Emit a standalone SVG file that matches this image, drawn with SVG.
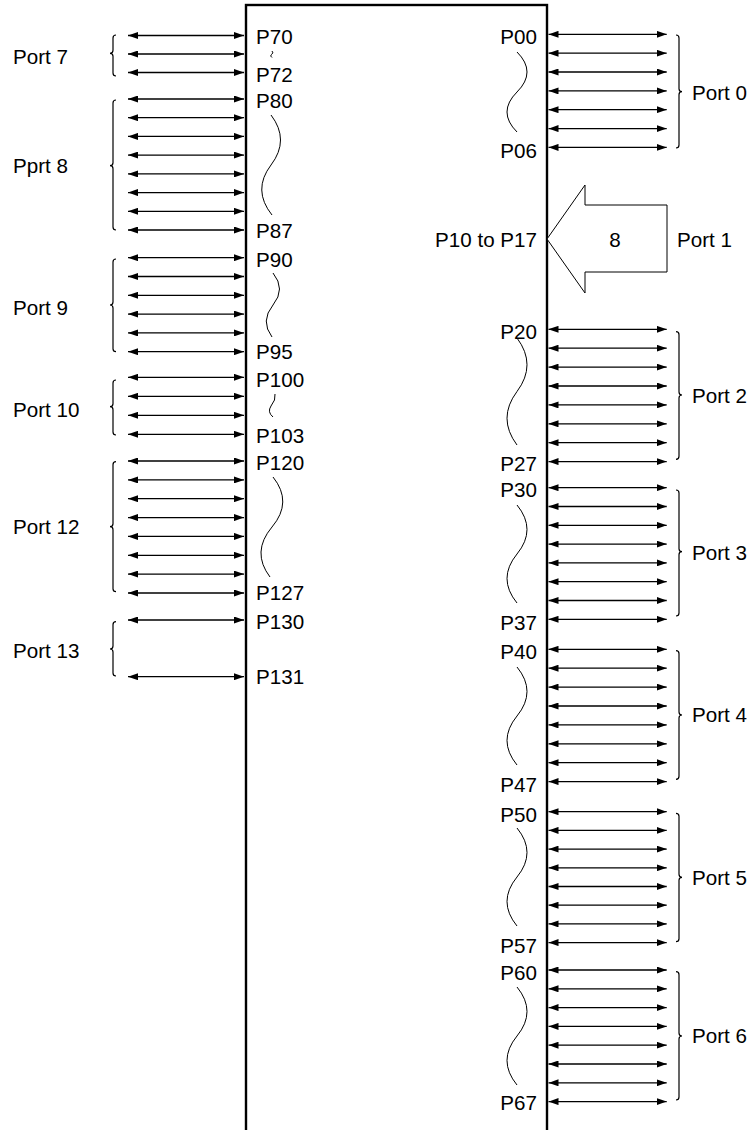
<svg xmlns="http://www.w3.org/2000/svg" width="751" height="1130" viewBox="0 0 751 1130">
<style>
text{font-family:"Liberation Sans",Arial,Helvetica,sans-serif;font-size:20.6px;fill:#000}
.r{text-anchor:end}
.m{text-anchor:middle}
.a{stroke:#000;stroke-width:1.3;fill:none;marker-start:url(#ah);marker-end:url(#ah)}
.b{stroke:#000;stroke-width:1.2;fill:none}
.w{stroke:#000;stroke-width:1;fill:none}
</style>
<defs>
<marker id="ah" viewBox="0 0 10 7" refX="10" refY="3.5" markerWidth="10" markerHeight="7" markerUnits="userSpaceOnUse" orient="auto-start-reverse"><path d="M0,0L10,3.5L0,7z" fill="#000"/></marker>
</defs>
<rect width="751" height="1130" fill="#fff"/>
<g id="chip">
<rect x="246" y="5" width="301" height="1140" fill="#fff" stroke="#000" stroke-width="2.4"/>
</g>
<g id="connectors">
<line class="a" x1="128" y1="35.5" x2="244" y2="35.5"/>
<line class="a" x1="128" y1="54" x2="244" y2="54"/>
<line class="a" x1="128" y1="72.5" x2="244" y2="72.5"/>
<line class="a" x1="128" y1="99" x2="244" y2="99"/>
<line class="a" x1="128" y1="117.7" x2="244" y2="117.7"/>
<line class="a" x1="128" y1="136.4" x2="244" y2="136.4"/>
<line class="a" x1="128" y1="155.1" x2="244" y2="155.1"/>
<line class="a" x1="128" y1="173.9" x2="244" y2="173.9"/>
<line class="a" x1="128" y1="192.6" x2="244" y2="192.6"/>
<line class="a" x1="128" y1="211.3" x2="244" y2="211.3"/>
<line class="a" x1="128" y1="230" x2="244" y2="230"/>
<line class="a" x1="128" y1="257.7" x2="244" y2="257.7"/>
<line class="a" x1="128" y1="276.5" x2="244" y2="276.5"/>
<line class="a" x1="128" y1="295.3" x2="244" y2="295.3"/>
<line class="a" x1="128" y1="314.1" x2="244" y2="314.1"/>
<line class="a" x1="128" y1="332.9" x2="244" y2="332.9"/>
<line class="a" x1="128" y1="351.7" x2="244" y2="351.7"/>
<line class="a" x1="128" y1="377.3" x2="244" y2="377.3"/>
<line class="a" x1="128" y1="396.3" x2="244" y2="396.3"/>
<line class="a" x1="128" y1="415.3" x2="244" y2="415.3"/>
<line class="a" x1="128" y1="434.3" x2="244" y2="434.3"/>
<line class="a" x1="128" y1="461" x2="244" y2="461"/>
<line class="a" x1="128" y1="479.9" x2="244" y2="479.9"/>
<line class="a" x1="128" y1="498.7" x2="244" y2="498.7"/>
<line class="a" x1="128" y1="517.6" x2="244" y2="517.6"/>
<line class="a" x1="128" y1="536.4" x2="244" y2="536.4"/>
<line class="a" x1="128" y1="555.3" x2="244" y2="555.3"/>
<line class="a" x1="128" y1="574.1" x2="244" y2="574.1"/>
<line class="a" x1="128" y1="593" x2="244" y2="593"/>
<line class="a" x1="128" y1="620" x2="244" y2="620"/>
<line class="a" x1="128" y1="676.7" x2="244" y2="676.7"/>
<line class="a" x1="548.5" y1="34.3" x2="666.7" y2="34.3"/>
<line class="a" x1="548.5" y1="53.2" x2="666.7" y2="53.2"/>
<line class="a" x1="548.5" y1="72" x2="666.7" y2="72"/>
<line class="a" x1="548.5" y1="90.9" x2="666.7" y2="90.9"/>
<line class="a" x1="548.5" y1="109.7" x2="666.7" y2="109.7"/>
<line class="a" x1="548.5" y1="128.6" x2="666.7" y2="128.6"/>
<line class="a" x1="548.5" y1="147.4" x2="666.7" y2="147.4"/>
<line class="a" x1="548.5" y1="329.3" x2="666.7" y2="329.3"/>
<line class="a" x1="548.5" y1="348.2" x2="666.7" y2="348.2"/>
<line class="a" x1="548.5" y1="367.1" x2="666.7" y2="367.1"/>
<line class="a" x1="548.5" y1="386" x2="666.7" y2="386"/>
<line class="a" x1="548.5" y1="404.9" x2="666.7" y2="404.9"/>
<line class="a" x1="548.5" y1="423.8" x2="666.7" y2="423.8"/>
<line class="a" x1="548.5" y1="442.7" x2="666.7" y2="442.7"/>
<line class="a" x1="548.5" y1="461.6" x2="666.7" y2="461.6"/>
<line class="a" x1="548.5" y1="487.7" x2="666.7" y2="487.7"/>
<line class="a" x1="548.5" y1="506.5" x2="666.7" y2="506.5"/>
<line class="a" x1="548.5" y1="525.3" x2="666.7" y2="525.3"/>
<line class="a" x1="548.5" y1="544.1" x2="666.7" y2="544.1"/>
<line class="a" x1="548.5" y1="562.9" x2="666.7" y2="562.9"/>
<line class="a" x1="548.5" y1="581.7" x2="666.7" y2="581.7"/>
<line class="a" x1="548.5" y1="600.5" x2="666.7" y2="600.5"/>
<line class="a" x1="548.5" y1="619.3" x2="666.7" y2="619.3"/>
<line class="a" x1="548.5" y1="649.3" x2="666.7" y2="649.3"/>
<line class="a" x1="548.5" y1="668.2" x2="666.7" y2="668.2"/>
<line class="a" x1="548.5" y1="687.1" x2="666.7" y2="687.1"/>
<line class="a" x1="548.5" y1="706" x2="666.7" y2="706"/>
<line class="a" x1="548.5" y1="724.9" x2="666.7" y2="724.9"/>
<line class="a" x1="548.5" y1="743.8" x2="666.7" y2="743.8"/>
<line class="a" x1="548.5" y1="762.7" x2="666.7" y2="762.7"/>
<line class="a" x1="548.5" y1="781.6" x2="666.7" y2="781.6"/>
<line class="a" x1="548.5" y1="811.7" x2="666.7" y2="811.7"/>
<line class="a" x1="548.5" y1="830.4" x2="666.7" y2="830.4"/>
<line class="a" x1="548.5" y1="849.1" x2="666.7" y2="849.1"/>
<line class="a" x1="548.5" y1="867.8" x2="666.7" y2="867.8"/>
<line class="a" x1="548.5" y1="886.5" x2="666.7" y2="886.5"/>
<line class="a" x1="548.5" y1="905.2" x2="666.7" y2="905.2"/>
<line class="a" x1="548.5" y1="923.9" x2="666.7" y2="923.9"/>
<line class="a" x1="548.5" y1="942.6" x2="666.7" y2="942.6"/>
<line class="a" x1="548.5" y1="970" x2="666.7" y2="970"/>
<line class="a" x1="548.5" y1="988.8" x2="666.7" y2="988.8"/>
<line class="a" x1="548.5" y1="1007.6" x2="666.7" y2="1007.6"/>
<line class="a" x1="548.5" y1="1026.4" x2="666.7" y2="1026.4"/>
<line class="a" x1="548.5" y1="1045.2" x2="666.7" y2="1045.2"/>
<line class="a" x1="548.5" y1="1064" x2="666.7" y2="1064"/>
<line class="a" x1="548.5" y1="1082.8" x2="666.7" y2="1082.8"/>
<line class="a" x1="548.5" y1="1101.6" x2="666.7" y2="1101.6"/>
</g>
<g id="port7">
<path class="b" d="M116,35 Q113,35 113,38 L113,50.3 Q113,53.3 110,53.3 Q113,53.3 113,56.3 L113,73 Q113,76 116,76"/>
<text x="13" y="64">Port 7</text>
<text x="256" y="44">P70</text>
<path class="w" d="M272,51 Q274,53 271.5,54.5 Q269.5,56 272,57.5"/>
<text x="256" y="82">P72</text>
</g>
<g id="port8">
<path class="b" d="M116,100 Q113,100 113,103 L113,162.7 Q113,165.7 110,165.7 Q113,165.7 113,168.7 L113,227 Q113,230 116,230"/>
<text x="13" y="173.3">Pprt 8</text>
<text x="256" y="108">P80</text>
<path class="w" d="M271,115 Q290,140 271,165 T272,215"/>
<text x="256" y="238">P87</text>
</g>
<g id="port9">
<path class="b" d="M116,259 Q113,259 113,262 L113,302 Q113,305 110,305 Q113,305 113,308 L113,348.7 Q113,351.7 116,351.7"/>
<text x="13" y="315">Port 9</text>
<text x="256" y="266.7">P90</text>
<path class="w" d="M273,273 Q286,289 273,305 T272,337"/>
<text x="256" y="359.3">P95</text>
</g>
<g id="port10">
<path class="b" d="M116,380 Q113,380 113,383 L113,403.7 Q113,406.7 110,406.7 Q113,406.7 113,409.7 L113,432 Q113,435 116,435"/>
<text x="13" y="416.7">Port 10</text>
<text x="256" y="386.7">P100</text>
<path class="w" d="M275,394 Q276,400 271,406 Q267,412 273,417"/>
<text x="256" y="442.7">P103</text>
</g>
<g id="port12">
<path class="b" d="M116,461.7 Q113,461.7 113,464.7 L113,523.7 Q113,526.7 110,526.7 Q113,526.7 113,529.7 L113,588.7 Q113,591.7 116,591.7"/>
<text x="13" y="534.3">Port 12</text>
<text x="256" y="470">P120</text>
<path class="w" d="M273,477 Q293,502 272,527 T270,577"/>
<text x="256" y="600">P127</text>
</g>
<g id="port13">
<path class="b" d="M116,621.7 Q113,621.7 113,624.7 L113,646 Q113,649 110,649 Q113,649 113,652 L113,673 Q113,676 116,676"/>
<text x="13" y="658.3">Port 13</text>
<text x="256" y="629">P130</text>
<text x="256" y="684">P131</text>
</g>
<g id="port0">
<path class="b" d="M676,35 Q679,35 679,38 L679,88.7 Q679,91.7 682,91.7 Q679,91.7 679,94.7 L679,145 Q679,148 676,148"/>
<text x="692" y="100">Port 0</text>
<text class="r" x="537" y="44">P00</text>
<path class="w" d="M517,52 Q537,72 517,92 T517,132"/>
<text class="r" x="537" y="158">P06</text>
</g>
<g id="port1">
<polygon points="547,239 585,185 585,205 667,205 667,272 585,272 585,293" fill="#fff" stroke="#000" stroke-width="1"/>
<text class="m" x="615" y="246.5">8</text>
<text x="677" y="246.5">Port 1</text>
<text class="r" x="537" y="246.5">P10 to P17</text>
</g>
<g id="port2">
<path class="b" d="M676,331.7 Q679,331.7 679,334.7 L679,392 Q679,395 682,395 Q679,395 679,398 L679,456.3 Q679,459.3 676,459.3"/>
<text x="692" y="402.7">Port 2</text>
<text class="r" x="537" y="339.3">P20</text>
<path class="w" d="M517,338 Q537,364.75 517,391.5 T517,445"/>
<text class="r" x="537" y="470.7">P27</text>
</g>
<g id="port3">
<path class="b" d="M676,490 Q679,490 679,493 L679,548.7 Q679,551.7 682,551.7 Q679,551.7 679,554.7 L679,613 Q679,616 676,616"/>
<text x="692" y="560">Port 3</text>
<text class="r" x="537" y="496.7">P30</text>
<path class="w" d="M517,505 Q537,529.5 517,554 T517,603"/>
<text class="r" x="537" y="630">P37</text>
</g>
<g id="port4">
<path class="b" d="M676,650.7 Q679,650.7 679,653.7 L679,712 Q679,715 682,715 Q679,715 679,718 L679,776.3 Q679,779.3 676,779.3"/>
<text x="692" y="721.7">Port 4</text>
<text class="r" x="537" y="659.3">P40</text>
<path class="w" d="M517,667 Q537,691.5 517,716 T517,765"/>
<text class="r" x="537" y="791.7">P47</text>
</g>
<g id="port5">
<path class="b" d="M676,813.3 Q679,813.3 679,816.3 L679,874.3 Q679,877.3 682,877.3 Q679,877.3 679,880.3 L679,938.7 Q679,941.7 676,941.7"/>
<text x="692" y="885">Port 5</text>
<text class="r" x="537" y="821.7">P50</text>
<path class="w" d="M517,828 Q537,852.5 517,877 T517,926"/>
<text class="r" x="537" y="953.3">P57</text>
</g>
<g id="port6">
<path class="b" d="M676,971.7 Q679,971.7 679,974.7 L679,1033 Q679,1036 682,1036 Q679,1036 679,1039 L679,1097 Q679,1100 676,1100"/>
<text x="692" y="1042.7">Port 6</text>
<text class="r" x="537" y="980">P60</text>
<path class="w" d="M517,987 Q537,1011.5 517,1036 T517,1085"/>
<text class="r" x="537" y="1110">P67</text>
</g>
</svg>
